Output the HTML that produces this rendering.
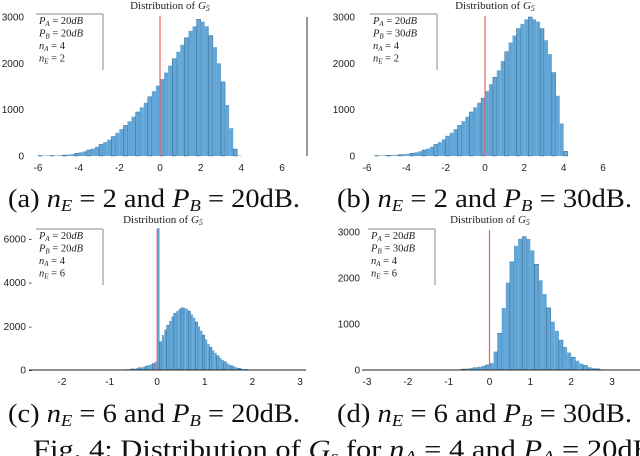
<!DOCTYPE html>
<html><head><meta charset="utf-8">
<style>
html,body{margin:0;padding:0;background:#fff;}
svg{display:block;}
.tick{font-family:"Liberation Sans",sans-serif;font-size:10px;fill:#222;}
.ttl{font-family:"Liberation Serif",serif;font-size:11px;fill:#222;}
.leg{font-family:"Liberation Serif",serif;font-style:italic;font-size:10.5px;fill:#222;}
.cap{font-family:"Liberation Serif",serif;font-size:26px;fill:#111;}
</style></head>
<body>
<svg id="fig" width="640" height="456" viewBox="0 0 640 456" xmlns="http://www.w3.org/2000/svg">
<text class="cap" x="8" y="207" textLength="292" lengthAdjust="spacingAndGlyphs">(a) <tspan font-style="italic">n</tspan><tspan font-style="italic" font-size="17" dy="4">E</tspan><tspan dy="-4"> = 2 and </tspan><tspan font-style="italic">P</tspan><tspan font-style="italic" font-size="17" dy="4">B</tspan><tspan dy="-4"> = 20dB.</tspan></text>
<text class="cap" x="337" y="207" textLength="295" lengthAdjust="spacingAndGlyphs">(b) <tspan font-style="italic">n</tspan><tspan font-style="italic" font-size="17" dy="4">E</tspan><tspan dy="-4"> = 2 and </tspan><tspan font-style="italic">P</tspan><tspan font-style="italic" font-size="17" dy="4">B</tspan><tspan dy="-4"> = 30dB.</tspan></text>
<text class="cap" x="8" y="422" textLength="292" lengthAdjust="spacingAndGlyphs">(c) <tspan font-style="italic">n</tspan><tspan font-style="italic" font-size="17" dy="4">E</tspan><tspan dy="-4"> = 6 and </tspan><tspan font-style="italic">P</tspan><tspan font-style="italic" font-size="17" dy="4">B</tspan><tspan dy="-4"> = 20dB.</tspan></text>
<text class="cap" x="337" y="422" textLength="295" lengthAdjust="spacingAndGlyphs">(d) <tspan font-style="italic">n</tspan><tspan font-style="italic" font-size="17" dy="4">E</tspan><tspan dy="-4"> = 6 and </tspan><tspan font-style="italic">P</tspan><tspan font-style="italic" font-size="17" dy="4">B</tspan><tspan dy="-4"> = 30dB.</tspan></text>
<text class="cap" x="33" y="458" textLength="620" lengthAdjust="spacingAndGlyphs">Fig. 4: Distribution of <tspan font-style="italic">G</tspan><tspan font-style="italic" font-size="17" dy="4">s</tspan><tspan dy="-4"> for </tspan><tspan font-style="italic">n</tspan><tspan font-style="italic" font-size="17" dy="4">A</tspan><tspan dy="-4"> = 4 and </tspan><tspan font-style="italic">P</tspan><tspan font-style="italic" font-size="17" dy="4">A</tspan><tspan dy="-4"> = 20dB</tspan></text>
</svg>
<script>
// Panel data (bin start, bin width, counts)
const startA = -6.0, widthA = 0.2;
const countsA = [10,10,10,10,10, 15,20,30,40,60, 80,100,130,160,200, 250,300,350,420,500, 580,660,750,850,950, 1050,1150,1280,1400,1520, 1650,1800,1950,2100,2250, 2400,2550,2700,2800,2950, 2900,2800,2600,2350,2000, 1600,1100,600,150,10];
const startB = -5.6, widthB = 0.2;
const countsB = [10,10,15,15,20, 25,30,40,50,60, 80,100,130,160,200, 250,300,360,430,500, 580,660,750,850,950, 1050,1150,1250,1400,1550, 1700,1850,2050,2250,2450, 2600,2750,2850,2950,3000, 2950,2900,2750,2500,2200, 1800,1300,700,100];
const startC = -0.7, widthC = 0.05;
const countsC = [20,30,40,50,60,80,100,120,150,180, 220,260,300,380, 6500, 1300,1600,1850,2050,2250,2450,2600,2700,2800,2850, 2850,2800,2700,2550,2400,2200,2000,1800,1600,1400, 1200,1050,900,780,650,550,460,380,300,240, 190,150,110,80,60,40,25,15,10,5];
const startD = -0.7, widthD = 0.1;
const countsD = [20,30,40,50,70,90,110, 150,400,800,1350, 1900,2350,2700,2850,2900, 2850,2600,2300,1950,1650, 1350,1050,850,650,500, 380,280,200,140,100, 60,40,25,15,10];
const xTicksA = [-6,-4,-2,0,2,4,6], yTicksA = [0,1000,2000,3000];
const xTicksB = [-6,-4,-2,0,2,4,6], yTicksB = [0,1000,2000,3000];
const xTicksC = [-2,-1,0,1,2,3], yTicksC = [0,2000,4000,6000];
const xTicksD = [-3,-2,-1,0,1,2,3], yTicksD = [0,1000,2000,3000];
const legendA = ["P_A = 20dB","P_B = 20dB","n_A = 4","n_E = 2"];
const legendB = ["P_A = 20dB","P_B = 30dB","n_A = 4","n_E = 2"];
const legendC = ["P_A = 20dB","P_B = 20dB","n_A = 4","n_E = 6"];
const legendD = ["P_A = 20dB","P_B = 30dB","n_A = 4","n_E = 6"];

const NS = "http://www.w3.org/2000/svg";
const svg = document.getElementById('fig');
function mk(tag, attrs, parent){ const e=document.createElementNS(NS,tag); for(const k in attrs) e.setAttribute(k,attrs[k]); (parent||svg).appendChild(e); return e; }

function panel(id, cfg, start, width, counts, xTicks, yTicks, legend){
  const g = mk('g',{});
  
  
  const sx = v => cfg.x0 + (v - cfg.xv0) * (cfg.x1 - cfg.x0) / (cfg.xv1 - cfg.xv0);
  const sy = v => cfg.yb - v * (cfg.yb - cfg.yt) / cfg.ymax;
  counts.forEach((c,i)=>{
    const a = sx(start + i*width), b = sx(start + (i+1)*width);
    const r = mk('rect',{x:a, y:sy(c), width:Math.max(0.6,b-a), height:cfg.yb-sy(c), fill:'#62a6d7', stroke:(i%3===0?'#24506e':'none'), 'stroke-width':0.4}, g);
    
    
  });
  if (cfg.axisLine){
    const ax = mk('line',{x1:cfg.axL, x2:cfg.axR, y1:cfg.yb, y2:cfg.yb, stroke:'#222', 'stroke-width':1}, g);
    
    
  }
  const red = mk('line',{x1:sx(0), x2:sx(0), y1:cfg.redTop, y2:cfg.yb, stroke:'#f06060', 'stroke-width':1.2}, g);
  
  
  xTicks.forEach(t=>{
    const tx = mk('text',{x:sx(t), y:cfg.yb+15, 'text-anchor':'middle', class:'tick'}, g);
    tx.textContent = t;
    
    
  });
  yTicks.forEach(t=>{
    const ty = mk('text',{x:cfg.yLabX, y:sy(t)+3.5, 'text-anchor':'end', class:'tick'}, g);
    ty.textContent = t + (cfg.dash ? ' -' : '');
    
    
  });
  const title = mk('text',{x:cfg.titleX, y:cfg.titleY, 'text-anchor':'middle', class:'ttl'}, g);
  title.innerHTML = 'Distribution of <tspan font-style="italic">G</tspan><tspan font-style="italic" font-size="8" dy="2">5</tspan>';
  
  
  const lg = mk('g',{}, g);
  
  
  mk('rect',{x:cfg.lx, y:cfg.ly, width:67, height:56, fill:'#fff'}, lg);
  mk('line',{x1:cfg.lx, x2:cfg.lx+67, y1:cfg.ly, y2:cfg.ly, stroke:'#888'}, lg);
  mk('line',{x1:cfg.lx+67, x2:cfg.lx+67, y1:cfg.ly, y2:cfg.ly+56, stroke:'#888'}, lg);
  legend.forEach((s,i)=>{
    const [l,r] = s.split(' = ');
    const t = mk('text',{x:cfg.lx+3, y:cfg.ly+10+i*12.5, class:'leg'}, lg);
    t.innerHTML = l[0] + '<tspan font-size="7" dy="2">' + l.slice(2) + '</tspan><tspan dy="-2" font-style="normal"> = ' + r.replace('dB','<tspan font-style="italic">dB</tspan>') + '</tspan>';
    
    
  });
  if (cfg.rightLine){
    const rl = mk('line',{x1:cfg.rightLine, x2:cfg.rightLine, y1:cfg.yt, y2:cfg.yb, stroke:'#333', 'stroke-width':1}, g);
    
    
  }
}

panel('a', {x0:38, x1:282, xv0:-6, xv1:6, yb:156, yt:17, ymax:3000, redTop:16, yLabX:24, titleX:170, titleY:9, lx:36, ly:14, rightLine:307, axisLine:false}, startA, widthA, countsA, xTicksA, yTicksA, legendA);
panel('b', {x0:367, x1:603, xv0:-6, xv1:6, yb:156, yt:17, ymax:3000, redTop:16, yLabX:355, titleX:495, titleY:9, lx:370, ly:14, axisLine:false}, startB, widthB, countsB, xTicksB, yTicksB, legendB);
panel('c', {x0:62, x1:300, xv0:-2, xv1:3, yb:370, yt:239, ymax:6000, redTop:229, yLabX:32, titleX:163, titleY:223, lx:36, ly:229, axisLine:true, axL:29, axR:306, dash:true}, startC, widthC, countsC, xTicksC, yTicksC, legendC);
panel('d', {x0:367, x1:612, xv0:-3, xv1:3, yb:370, yt:232, ymax:3000, redTop:230, yLabX:360, titleX:490, titleY:223, lx:368, ly:229, axisLine:true, axL:362, axR:640}, startD, widthD, countsD, xTicksD, yTicksD, legendD);
</script>
</body></html>
